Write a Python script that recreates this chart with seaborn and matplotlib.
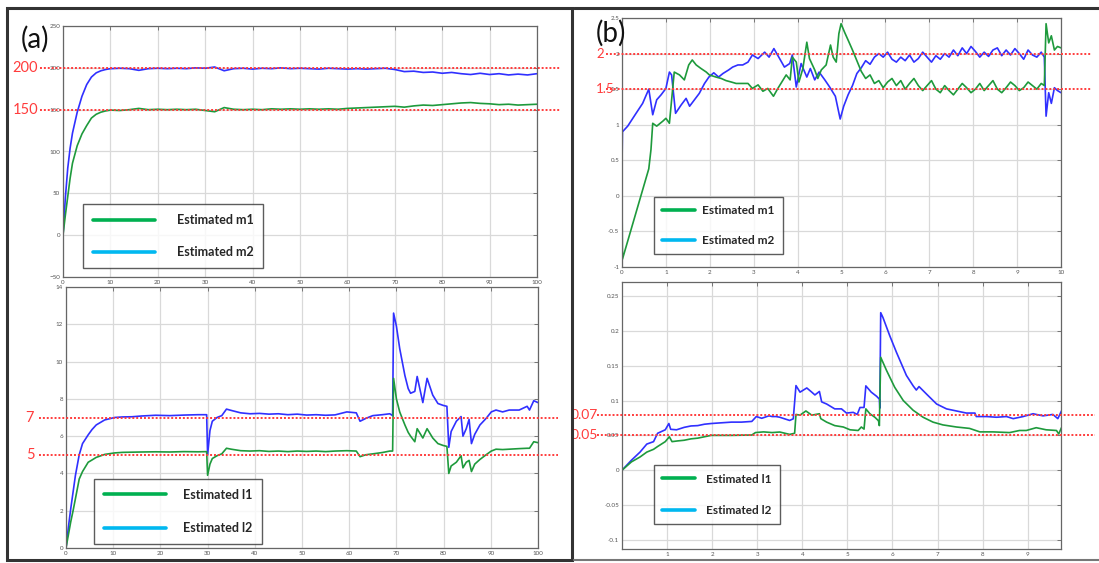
import numpy as np
import pandas as pd
import seaborn as sns
import matplotlib.pyplot as plt
from matplotlib.lines import Line2D
from matplotlib.patches import Rectangle
import matplotlib.transforms as mtransforms

# ---------------- data ----------------
# (a) top: estimated m1 / m2, shared time grid
a_top_t = [0, 0.5, 1, 1.5, 2, 3, 4, 5, 6, 7, 8, 9, 10,
           12, 14, 16, 18, 20, 22, 24, 26, 28, 30, 32, 34, 36, 38, 40, 42, 44, 46, 48, 50,
           52, 54, 56, 58, 60, 62, 64, 66, 68, 70, 72, 74, 76, 78, 80, 82, 84, 86, 88, 90,
           92, 94, 96, 98, 100]
m2_est = [0, 45, 80, 104, 122, 147, 166, 180, 189, 194, 196.5, 198, 199,
          199.5, 199, 197, 199, 199.5, 199, 199.5, 199, 200, 199.5, 201, 196.5, 199, 199.5, 198.5, 199.5, 199, 200, 199, 199.5,
          199, 198.5, 199.5, 199, 198.5, 199, 198.5, 199, 199.5, 198, 195.5, 196, 194.5, 195, 193.5, 194.5, 193, 192, 193.5, 192,
          193, 191.5, 192.5, 191.5, 193]
m1_est = [0, 24, 46, 68, 86, 107, 121, 131, 140, 144.5, 147, 148.5, 149.5,
          149, 150, 151.5, 150, 150.5, 150, 150.5, 150, 150.5, 149, 147.5, 152.5, 150.5, 150, 150.5, 150, 151, 150.5, 151, 150.5,
          151, 150.5, 151, 150.5, 151.5, 152, 152.5, 153, 153.5, 154, 153, 154.5, 155.5, 155, 156, 157, 158, 158.5, 157.5, 157,
          156, 156.5, 155.5, 156, 156.5]

# (a) bottom: estimated l1 / l2, shared time grid
a_low_t = [0, 0.5, 1, 1.5, 2, 2.8, 3.5, 4.7, 5.5, 6.4, 8.2, 10.3, 12, 14, 16, 19, 22, 25, 28, 29.8,
           30, 30.5, 31, 32, 33, 34, 35, 37, 39, 41, 43, 45, 47, 49, 51, 53, 55, 57, 59.5, 61.5,
           62.3, 63.5, 65, 67, 68.6, 69.2, 69.4, 70, 70.7, 71.8, 72.5, 73, 73.9, 74.4, 75.6, 76.5, 77.7, 78.8, 79.9, 80.7,
           81.1, 81.6, 82.7, 83.7, 84.1, 84.8, 85.4, 85.9, 86.6, 87.7, 89, 90.1, 91.1, 92.5, 93.9, 96, 97.7, 98.2, 99.1, 100]
l2_est = [0, 1.1, 2.1, 3.0, 3.9, 5.0, 5.6, 6.07, 6.35, 6.6, 6.87, 7.0, 7.03, 7.04, 7.08, 7.12, 7.1, 7.13, 7.15, 7.15,
          5.0, 6.3, 6.8, 7.0, 7.1, 7.45, 7.38, 7.25, 7.2, 7.22, 7.18, 7.2, 7.15, 7.18, 7.13, 7.15, 7.12, 7.14, 7.3, 7.25,
          6.8, 6.95, 7.1, 7.15, 7.2, 7.1, 12.6, 11.9, 10.7, 9.25, 8.55, 8.3, 8.4, 9.2, 7.8, 9.1, 8.2, 7.75, 7.65, 7.6,
          5.4, 6.25, 6.8, 7.05, 6.0, 6.4, 6.9, 5.6, 6.1, 6.6, 6.95, 7.3, 7.4, 7.3, 7.4, 7.4, 7.6, 7.4, 7.9, 7.8]
l1_est = [0, 0.7, 1.4, 2.0, 2.65, 3.7, 4.1, 4.6, 4.72, 4.86, 5.02, 5.1, 5.13, 5.14, 5.15, 5.16, 5.15, 5.17, 5.16, 5.17,
          3.9, 4.5, 4.8, 4.95, 5.05, 5.35, 5.3, 5.22, 5.2, 5.22, 5.18, 5.2, 5.17, 5.2, 5.18, 5.2, 5.17, 5.2, 5.22, 5.2,
          4.9, 5.0, 5.05, 5.12, 5.2, 5.2, 9.1, 8.0, 7.3, 6.6, 6.2, 6.0, 5.7, 6.4, 5.9, 6.4, 5.9, 5.6, 5.5, 5.45,
          4.0, 4.4, 4.6, 4.95, 4.3, 4.6, 4.7, 4.1, 4.5, 4.75, 5.0, 5.2, 5.3, 5.28, 5.3, 5.33, 5.35, 5.35, 5.7, 5.65]

# (b) top: estimated m2
b_m2_t = [0, 0.01, 0.13, 0.32, 0.47, 0.61, 0.70, 0.79, 0.89, 1.0,
          1.08, 1.13, 1.22, 1.35, 1.46, 1.54, 1.65, 1.76, 1.88, 1.98,
          2.09, 2.20, 2.30, 2.43, 2.52, 2.64, 2.75, 2.87, 2.97, 3.10,
          3.25, 3.35, 3.46, 3.59, 3.70, 3.82, 3.88, 3.97, 4.08, 4.21,
          4.29, 4.39, 4.49, 4.62, 4.73, 4.86, 4.97, 5.05, 5.15, 5.25,
          5.35, 5.45, 5.55, 5.65, 5.75, 5.85, 5.95, 6.05, 6.15, 6.25,
          6.35, 6.45, 6.55, 6.65, 6.75, 6.85, 6.95, 7.05, 7.15, 7.25,
          7.35, 7.45, 7.55, 7.65, 7.75, 7.85, 7.95, 8.05, 8.15, 8.25,
          8.35, 8.45, 8.55, 8.65, 8.75, 8.85, 8.95, 9.05, 9.15, 9.25,
          9.35, 9.45, 9.55, 9.62, 9.66, 9.72, 9.78, 9.85, 9.92, 10.0]
b_m2 = [0.42, 0.90, 0.98, 1.16, 1.30, 1.50, 1.14, 1.35, 1.42, 1.51,
        1.74, 1.70, 1.16, 1.28, 1.37, 1.26, 1.35, 1.44, 1.58, 1.67,
        1.73, 1.67, 1.72, 1.77, 1.81, 1.84, 1.84, 1.88, 1.98, 1.93,
        2.02, 1.95, 2.07, 1.93, 1.81, 1.86, 1.98, 1.53, 1.86, 1.67,
        1.79, 1.63, 1.74, 1.63, 1.53, 1.40, 1.08, 1.26, 1.42, 1.55,
        1.72, 1.80, 1.90, 1.85, 1.95, 2.00, 1.95, 2.02, 1.92, 1.88,
        1.95, 1.90, 1.98, 1.88, 1.93, 2.02, 1.95, 1.88, 1.97, 1.92,
        2.00, 1.95, 2.05, 1.97, 2.08, 2.00, 2.10, 2.03, 1.95, 2.02,
        1.96, 2.05, 2.08, 1.97, 2.05, 1.98, 2.07, 2.00, 1.92, 2.05,
        1.98, 1.95, 2.02, 1.95, 1.12, 1.45, 1.30, 1.52, 1.48, 1.45]

# (b) top: estimated m1
b_m1_t = [0, 0.01, 0.61, 0.66, 0.70, 0.79, 0.93, 1.0, 1.08, 1.19,
          1.31, 1.42, 1.52, 1.60, 1.69, 1.80, 1.92, 1.99, 2.14, 2.26,
          2.37, 2.49, 2.60, 2.71, 2.87, 2.97, 3.10, 3.21, 3.32, 3.45,
          3.55, 3.67, 3.74, 3.83, 3.88, 3.97, 4.03, 4.12, 4.21, 4.27,
          4.39, 4.46, 4.54, 4.65, 4.75, 4.81, 4.88, 4.94, 4.99, 5.07,
          5.15, 5.25, 5.35, 5.45, 5.55, 5.65, 5.75, 5.85, 5.95, 6.05,
          6.15, 6.25, 6.35, 6.45, 6.55, 6.65, 6.75, 6.85, 6.95, 7.05,
          7.15, 7.25, 7.35, 7.45, 7.55, 7.65, 7.75, 7.85, 7.95, 8.05,
          8.15, 8.25, 8.35, 8.45, 8.55, 8.65, 8.75, 8.85, 8.95, 9.05,
          9.15, 9.25, 9.35, 9.45, 9.55, 9.62, 9.66, 9.72, 9.78, 9.85,
          9.92, 10.0]
b_m1 = [0.0, -0.89, 0.38, 0.65, 1.02, 0.98, 1.05, 1.09, 1.02, 1.74,
        1.70, 1.63, 1.84, 1.91, 1.84, 1.79, 1.74, 1.70, 1.67, 1.65,
        1.62, 1.60, 1.58, 1.58, 1.58, 1.51, 1.56, 1.47, 1.51, 1.40,
        1.51, 1.63, 1.70, 1.63, 1.95, 1.88, 1.60, 1.79, 2.16, 1.93,
        1.77, 1.65, 1.77, 1.84, 2.12, 1.95, 1.88, 2.28, 2.42, 2.30,
        2.19, 2.05, 1.90, 1.75, 1.65, 1.70, 1.58, 1.62, 1.52, 1.60,
        1.65, 1.55, 1.62, 1.50, 1.58, 1.65, 1.55, 1.48, 1.55, 1.62,
        1.50, 1.45, 1.55, 1.48, 1.42, 1.50, 1.58, 1.52, 1.45, 1.50,
        1.58, 1.48, 1.55, 1.62, 1.50, 1.45, 1.52, 1.60, 1.55, 1.48,
        1.52, 1.60, 1.55, 1.50, 1.58, 1.55, 2.42, 2.15, 2.25, 2.05,
        2.10, 2.08]

# (b) bottom: estimated l2
b_l2_t = [0, 0.21, 0.40, 0.55, 0.70, 0.79, 0.96, 1.04, 1.08, 1.21,
          1.38, 1.53, 1.68, 1.83, 1.98, 2.2, 2.43, 2.65, 2.88, 2.98,
          3.1, 3.26, 3.33, 3.42, 3.50, 3.72, 3.80, 3.86, 3.95, 4.10,
          4.21, 4.28, 4.38, 4.43, 4.54, 4.72, 4.87, 4.98, 5.13, 5.22,
          5.28, 5.37, 5.41, 5.53, 5.65, 5.71, 5.72, 5.74, 5.79, 5.94,
          6.09, 6.31, 6.46, 6.53, 6.59, 6.76, 6.98, 7.20, 7.42, 7.64,
          7.83, 7.86, 8.09, 8.31, 8.53, 8.68, 8.90, 9.12, 9.34, 9.56,
          9.67, 9.75]
b_l2 = [0, 0.0144, 0.026, 0.0375, 0.041, 0.053, 0.058, 0.067, 0.0587, 0.058,
        0.0615, 0.0635, 0.064, 0.066, 0.067, 0.068, 0.069, 0.069, 0.07, 0.077,
        0.0745, 0.078, 0.077, 0.077, 0.076, 0.0714, 0.0738, 0.1214, 0.112, 0.118,
        0.112, 0.108, 0.113, 0.098, 0.095, 0.088, 0.088, 0.082, 0.083, 0.080,
        0.090, 0.090, 0.121, 0.112, 0.106, 0.102, 0.089, 0.226, 0.219, 0.193,
        0.169, 0.136, 0.121, 0.115, 0.120, 0.109, 0.095, 0.088, 0.085, 0.082,
        0.082, 0.077, 0.077, 0.076, 0.077, 0.074, 0.077, 0.081, 0.078, 0.080,
        0.074, 0.085]

# (b) bottom: estimated l1
b_l1_t = [0, 0.21, 0.40, 0.55, 0.70, 0.79, 0.96, 1.05, 1.11, 1.23,
          1.38, 1.53, 1.68, 1.83, 1.98, 2.43, 2.88, 2.96, 3.14, 3.33,
          3.50, 3.72, 3.83, 3.86, 3.95, 4.08, 4.21, 4.38, 4.41, 4.54,
          4.72, 4.91, 5.06, 5.24, 5.31, 5.37, 5.41, 5.50, 5.61, 5.69,
          5.71, 5.74, 5.87, 6.05, 6.24, 6.46, 6.68, 6.90, 7.12, 7.42,
          7.71, 7.94, 8.23, 8.60, 8.82, 8.97, 9.19, 9.41, 9.64, 9.69,
          9.75]
b_l1 = [0, 0.012, 0.019, 0.026, 0.030, 0.034, 0.041, 0.048, 0.041, 0.042,
        0.043, 0.045, 0.046, 0.048, 0.050, 0.050, 0.0505, 0.054, 0.055, 0.054,
        0.0548, 0.0514, 0.053, 0.080, 0.079, 0.085, 0.079, 0.081, 0.074, 0.069,
        0.064, 0.062, 0.058, 0.057, 0.062, 0.059, 0.088, 0.081, 0.076, 0.071,
        0.064, 0.162, 0.143, 0.119, 0.100, 0.086, 0.076, 0.069, 0.065, 0.062,
        0.060, 0.055, 0.055, 0.054, 0.057, 0.057, 0.061, 0.058, 0.057, 0.052,
        0.061]

# reference levels marked in red and their labels
a_top_refs = [200, 150]
a_low_refs = [7, 5]
b_top_refs = [2, 1.5]
b_low_refs = [0.079, 0.05]
b_low_ref_labels = ['0.07', '0.05']

# ---------------- style ----------------
sns.set_theme(style='white')
plt.rcParams['font.family'] = ['Lato', 'DejaVu Sans']

BLUE = '#3030ff'
GREEN = '#1e9a3c'
RED = '#ff3c3c'
LEG_GREEN = '#00b050'
LEG_CYAN = '#00b8f0'

fig = plt.figure(figsize=(10.99, 5.63), dpi=100)
fig.patch.set_facecolor('white')


def px_ax(l, t, r, b):
    W, H = 1099, 563
    return fig.add_axes([l / W, 1 - b / H, (r - l) / W, (b - t) / H])


ax_a1 = px_ax(63, 26, 537, 277)
ax_a2 = px_ax(66, 287, 538, 548)
ax_b1 = px_ax(622, 18, 1061, 267)
ax_b2 = px_ax(622, 282, 1061, 549)


def style_axes(ax):
    ax.set_facecolor('white')
    ax.grid(True, color='#d9d9d9', lw=0.9)
    ax.tick_params(direction='in', top=True, right=True, length=3, width=0.6,
                   labelsize=4.5, labelcolor='#555555', color='#666666', pad=2)
    for s in ax.spines.values():
        s.set_color('#666666')
        s.set_linewidth(0.9)
    ax.set_xlabel('')
    ax.set_ylabel('')


def draw(ax, t, v, color):
    sns.lineplot(x=t, y=v, ax=ax, color=color, lw=1.2, estimator=None, sort=False, zorder=2)


def refs(ax, levels, labels, x0, x1, tx, ha, size=10.5):
    trans = mtransforms.blended_transform_factory(fig.transFigure, ax.transData)
    for lev, lab in zip(levels, labels):
        ax.axhline(lev, xmin=x0, xmax=x1, color=RED, lw=1.4, ls=(0, (1, 1)),
                   clip_on=False, zorder=3)
        ax.text(tx / 1099, lev, lab, transform=trans, ha=ha, va='center',
                color=RED, fontsize=size, zorder=4)


def legend(ax, labels, x0, y0, size, hlen, tpad, lspace, bpad):
    handles = [Line2D([], [], color=LEG_GREEN, lw=2.6), Line2D([], [], color=LEG_CYAN, lw=2.6)]
    leg = ax.legend(handles, labels, loc='lower left', bbox_to_anchor=(x0, y0),
                    borderaxespad=0, frameon=True, fancybox=False, edgecolor='#333333',
                    handlelength=hlen, handletextpad=tpad, labelspacing=lspace,
                    borderpad=bpad, prop={'family': 'Lato', 'weight': 'bold', 'size': size})
    leg.get_frame().set_linewidth(1.0)
    leg.set_zorder(5)


# (a) top
draw(ax_a1, a_top_t, m2_est, BLUE)
draw(ax_a1, a_top_t, m1_est, GREEN)
ax_a1.set_xlim(0, 100)
ax_a1.set_ylim(-50, 250)
ax_a1.set_xticks(range(0, 101, 10))
ax_a1.set_yticks(range(-50, 251, 50))
style_axes(ax_a1)
refs(ax_a1, a_top_refs, ['200', '150'], -0.0485, 1.0485, 38, 'right')
legend(ax_a1, ['Estimated m1', 'Estimated m2'], 0.042, 0.036, 9, 5, 1.7, 1.6, 0.8)

# (a) bottom
draw(ax_a2, a_low_t, l2_est, BLUE)
draw(ax_a2, a_low_t, l1_est, GREEN)
ax_a2.set_xlim(0, 100)
ax_a2.set_ylim(0, 14)
ax_a2.set_xticks(range(0, 101, 10))
ax_a2.set_yticks(range(0, 15, 2))
style_axes(ax_a2)
refs(ax_a2, a_low_refs, ['7', '5'], -0.057, 1.042, 30, 'center')
legend(ax_a2, ['Estimated l1', 'Estimated l2'], 0.059, 0.015, 9, 5, 1.3, 1.7, 0.8)

# (b) top
draw(ax_b1, b_m2_t, b_m2, BLUE)
draw(ax_b1, b_m1_t, b_m1, GREEN)
ax_b1.set_xlim(0, 10)
ax_b1.set_ylim(-1, 2.5)
ax_b1.set_xticks(range(0, 11))
ax_b1.set_yticks([-1, -0.5, 0, 0.5, 1, 1.5, 2, 2.5])
ax_b1.set_yticklabels(['-1', '-0.5', '0', '0.5', '1', '1.5', '2', '2.5'])
style_axes(ax_b1)
refs(ax_b1, b_top_refs, ['2', '1.5'], -0.036, 1.0706, 596, 'left', size=9.5)
legend(ax_b1, ['Estimated m1', 'Estimated m2'], 0.073, 0.052, 8.5, 2.8, 0.6, 1.6, 0.7)

# (b) bottom
draw(ax_b2, b_l2_t, b_l2, BLUE)
draw(ax_b2, b_l1_t, b_l1, GREEN)
ax_b2.set_xlim(0, 9.74)
ax_b2.set_ylim(-0.113, 0.27)
ax_b2.set_xticks(range(1, 10))
ax_b2.set_yticks([-0.1, -0.05, 0, 0.05, 0.1, 0.15, 0.2, 0.25])
ax_b2.set_yticklabels(['-0.1', '-0.05', '0', '0.05', '0.1', '0.15', '0.2', '0.25'])
style_axes(ax_b2)
refs(ax_b2, b_low_refs, b_low_ref_labels, -0.057, 1.077, 598, 'right', size=10)
legend(ax_b2, ['Estimated l1', 'Estimated l2'], 0.073, 0.094, 8.5, 2.8, 0.9, 1.7, 0.7)

# panel letters
fig.text(21 / 1099, 1 - 39 / 563, '(a)', fontsize=20, ha='left', va='center', color='#111111')
fig.text(596 / 1099, 1 - 33 / 563, '(b)', fontsize=20, ha='left', va='center', color='#111111')

# panel frames
fig.add_artist(Rectangle((7 / 1099, 1 - 560 / 563), (572 - 7) / 1099, (560 - 8) / 563,
                         transform=fig.transFigure, fill=False, lw=2.2, ec='#333333'))
fig.add_artist(Line2D([574 / 1099, 1.0], [1 - 8 / 563, 1 - 8 / 563], transform=fig.transFigure,
                      color='#333333', lw=2.2))
fig.add_artist(Line2D([574 / 1099, 1.0], [1 - 560 / 563, 1 - 560 / 563], transform=fig.transFigure,
                      color='#777777', lw=1.5))

fig.savefig('out.png', dpi=100, facecolor='white')
